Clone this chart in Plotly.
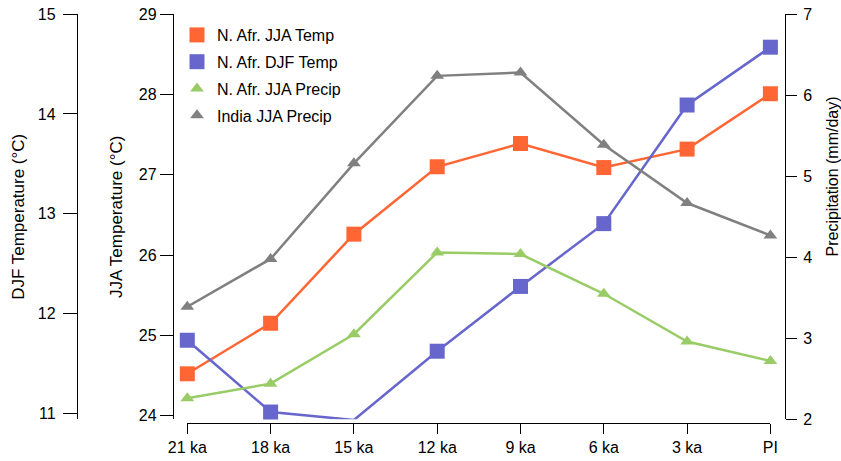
import plotly.graph_objects as go

W, H = 841, 461

categories = ["21 ka", "18 ka", "15 ka", "12 ka", "9 ka", "6 ka", "3 ka", "PI"]
jja_temp = [24.52, 25.15, 26.26, 27.10, 27.39, 27.09, 27.32, 28.01]
djf_temp = [11.73, 11.01, 10.93, 11.62, 12.27, 12.90, 14.09, 14.67]
nafr_precip = [2.26, 2.44, 3.05, 4.06, 4.04, 3.55, 2.96, 2.72]
india_precip = [3.39, 3.98, 5.16, 6.24, 6.28, 5.39, 4.67, 4.27]

names = ["N. Afr. JJA Temp", "N. Afr. DJF Temp", "N. Afr. JJA Precip", "India JJA Precip"]
colors = ["#FF6633", "#6666CC", "#99CC66", "#808080"]
symbols = ["square", "square", "triangle-up", "triangle-up"]
sizes = [15, 15, 12, 12]
series = [jja_temp, djf_temp, nafr_precip, india_precip]
yaxes = ["y", "y2", "y3", "y3"]

FONT = "Liberation Sans, Arial, Helvetica, sans-serif"


def px_x(p):
    """window pixel x -> paper fraction"""
    return p / W


def px_y(p):
    """window pixel y -> paper fraction"""
    return 1 - p / H


fig = go.Figure()
for name, vals, col, sym, sz, ya in zip(names, series, colors, symbols, sizes, yaxes):
    fig.add_trace(go.Scatter(
        x=categories, y=vals, yaxis=ya, mode="lines+markers",
        line=dict(color=col, width=2.5),
        marker=dict(symbol=sym, size=sz, color=col, line=dict(width=0)),
        cliponaxis=False, showlegend=False, name=name))
for i, (name, col, sym, sz) in enumerate(zip(names, colors, symbols, sizes)):
    fig.add_trace(go.Scatter(
        x=[None], y=[None], mode="markers", name=name, legendgroup=str(i),
        marker=dict(symbol=sym, size=sz, color=col, line=dict(width=0))))

ydom = [px_y(419.3), px_y(14.3)]
axis_common = dict(showline=True, linecolor="black", linewidth=1.3, ticks="outside",
                   tickcolor="black", tickwidth=1.3, showgrid=False, zeroline=False,
                   ticklabeloverflow="allow",
                   tickfont=dict(size=16, color="black", family=FONT), automargin=False)

fig.update_layout(
    width=W, height=H,
    margin=dict(l=0, r=0, t=0, b=0),
    paper_bgcolor="white", plot_bgcolor="white",
    font=dict(family=FONT, color="black"),
    xaxis=dict(domain=[px_x(187.3), px_x(770.4)], type="category", range=[0, 7],
               anchor="free", position=px_y(422.7), ticklen=10, **axis_common),
    yaxis=dict(domain=ydom, range=[23.953, 29], dtick=1, anchor="free", position=px_x(173),
               ticklen=13, title=dict(text="JJA Temperature (°C)", font=dict(size=17), standoff=10),
               **axis_common),
    yaxis2=dict(range=[10.937, 15], dtick=1, overlaying="y", anchor="free", position=px_x(77),
                side="left", ticklen=14, ticklabelstandoff=4,
                title=dict(text="DJF Temperature (°C)", font=dict(size=17), standoff=7),
                **axis_common),
    yaxis3=dict(range=[2, 7], dtick=1, overlaying="y", anchor="free", position=px_x(785),
                side="right", ticklen=11, ticklabelstandoff=3,
                **axis_common),
    legend=dict(x=px_x(177), y=px_y(18), xanchor="left", yanchor="top",
                font=dict(size=16, color="black", family=FONT), bgcolor="rgba(0,0,0,0)",
                tracegroupgap=3, itemwidth=30),
    annotations=[dict(text="Precipitation (mm/day)", textangle=-90, showarrow=False,
                      xref="paper", yref="paper", x=px_x(831.5), y=px_y(177),
                      xanchor="center", yanchor="middle",
                      font=dict(size=16, color="black", family=FONT))],
)

fig.write_html("out.html", config={"displayModeBar": False},
               post_script="document.body.style.margin='0px';")
